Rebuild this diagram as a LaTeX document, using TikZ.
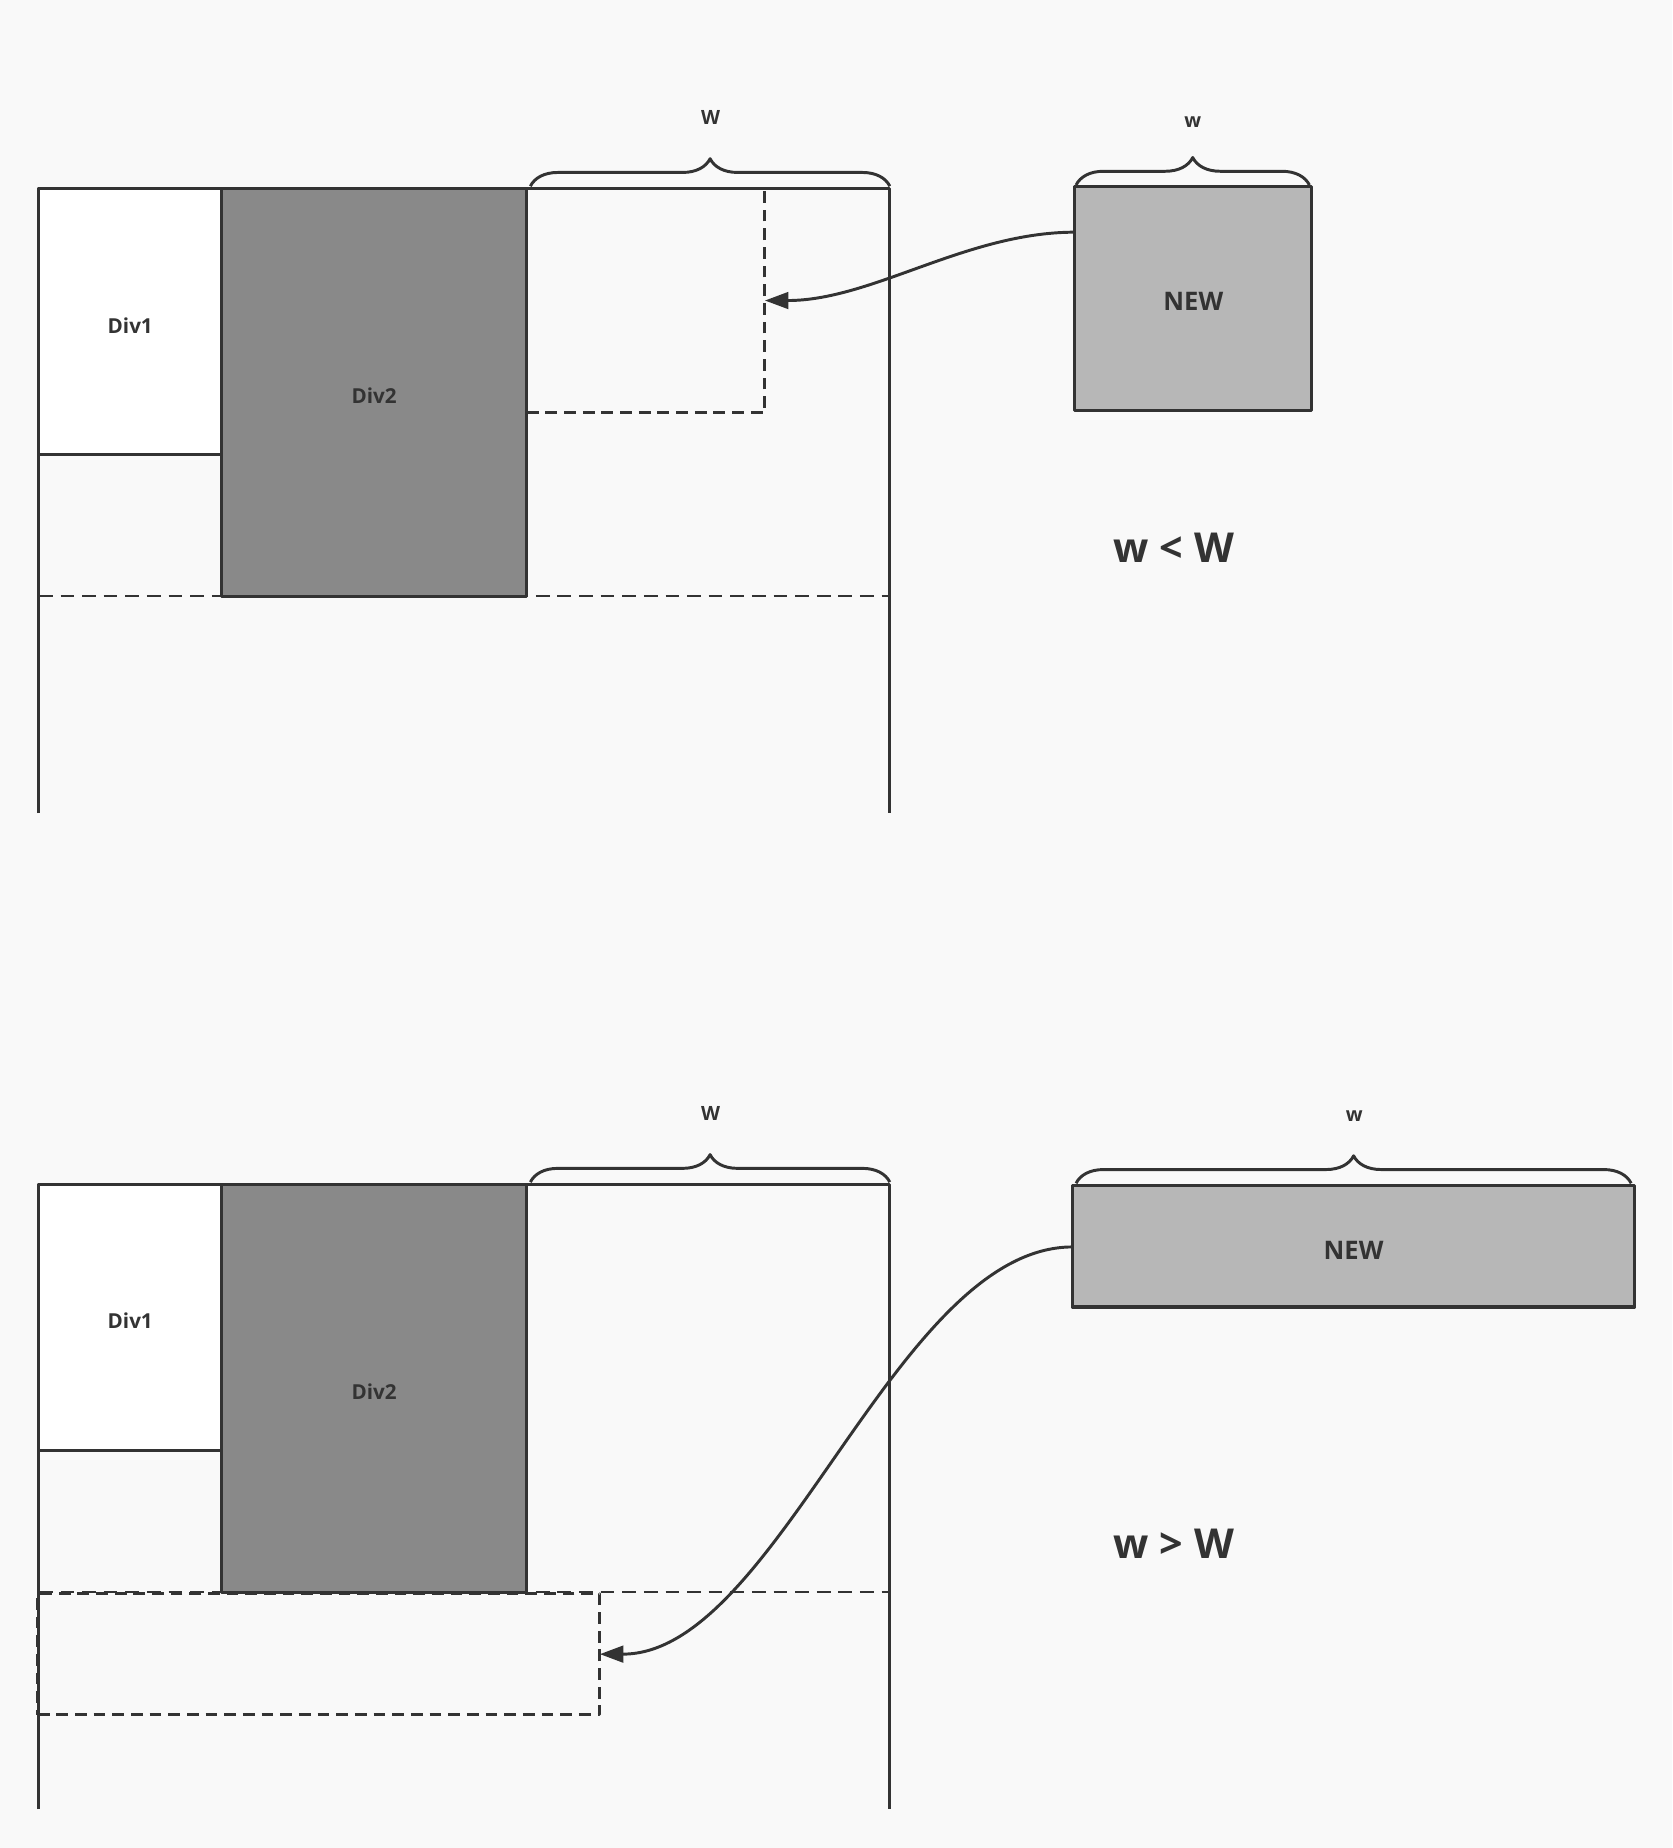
\documentclass[tikz,border=0pt]{standalone}
\usepackage{fontspec}
\setmainfont{Open Sans}
\usetikzlibrary{arrows.meta,decorations.pathreplacing}

\definecolor{ink}{HTML}{333333}
\definecolor{paper}{HTML}{F9F9F9}
\definecolor{divdark}{HTML}{898989}
\definecolor{divnew}{HTML}{B7B7B7}

\tikzset{
  wall/.style={draw=ink,line width=1.5pt},
  rowline/.style={draw=ink,line width=0.9pt,dash pattern=on 7pt off 4pt},
  box/.style={rectangle,draw=ink,line width=1.6pt,inner sep=0pt,outer sep=0pt,
    text=ink,font=\fontsize{10.5}{12}\selectfont\bfseries,text height=11.5pt,text depth=0pt},
  newbox/.style={fill=divnew,font=\fontsize{13}{15}\selectfont\bfseries,text height=13pt},
  slot/.style={rectangle,draw=ink,line width=1.6pt,dash pattern=on 6pt off 3.5pt,
    inner sep=0pt,outer sep=0pt},
  bracket/.style={draw=ink,line width=1.5pt,decorate,decoration={brace,amplitude=14pt}},
  lbl/.style={text=ink,inner sep=0pt,font=\fontsize{10}{12}\selectfont\bfseries},
  link/.style={draw=ink,line width=1.5pt,-{Triangle[length=12pt,width=8.5pt]}},
}

\begin{document}
\begin{tikzpicture}[x=0.6pt,y=-0.6pt,line join=round]

  \fill[paper] (0,0) rectangle (1419,1568);
  \useasboundingbox (0,0) rectangle (1419,1568);

  % ---- upper case: w < W ----
  \draw[wall] (33,690) -- (33,160) -- (755,160) -- (755,690);
  \draw[rowline] (33,506) -- (755,506);

  \begin{scope}[every node/.style={box}]
    \node[fill=white,minimum width=93pt,minimum height=135.6pt] (d1a) at (110.5,273) {Div1};
    \node[fill=divdark,minimum width=155.4pt,minimum height=207.6pt] (d2a) at (317.5,333) {Div2};
    \node[newbox,minimum width=120.6pt,minimum height=114pt] (newa) at (1012.5,253) {NEW};
  \end{scope}

  \node[slot,minimum width=121.2pt,minimum height=114pt] (slota) at (548,255) {};

  \draw[bracket] (450,158) -- (755,158);
  \draw[bracket] (913,157) -- (1111,157);
  \node[lbl] (bigwa) at (603,100) {W};
  \node[lbl] (smallwa) at (1012,104) {w};

  \coordinate (froma) at (912,197);
  \draw[link] (froma) .. controls +(-92,0) and +(91,0) .. (slota.east);

  \node[text=ink,font=\fontsize{21}{24}\selectfont\bfseries] (rulea) at (996,465) {w < W};

  % ---- lower case: w > W ----
  \draw[wall] (33,1535) -- (33,1005) -- (755,1005) -- (755,1535);
  \draw[rowline] (33,1351) -- (755,1351);

  \begin{scope}[every node/.style={box}]
    \node[fill=white,minimum width=93pt,minimum height=135.6pt] (d1b) at (110.5,1118) {Div1};
    \node[fill=divdark,minimum width=155.4pt,minimum height=207.6pt] (d2b) at (317.5,1178) {Div2};
    \node[newbox,minimum width=286.2pt,minimum height=61.8pt] (newb) at (1148.5,1057.5) {NEW};
  \end{scope}

  \node[slot,minimum width=286.2pt,minimum height=61.8pt] (slotb) at (270.5,1403.5) {};

  \draw[bracket] (450,1003) -- (755,1003);
  \draw[bracket] (913,1004) -- (1384,1004);
  \node[lbl] (bigwb) at (603,945) {W};
  \node[lbl] (smallwb) at (1149,947) {w};

  \coordinate (fromb) at (910,1058);
  \draw[link] (fromb) .. controls +(-150,0) and +(151,0) .. (slotb.east);

  \node[text=ink,font=\fontsize{21}{24}\selectfont\bfseries] (ruleb) at (996,1310) {w > W};

\end{tikzpicture}
\end{document}
